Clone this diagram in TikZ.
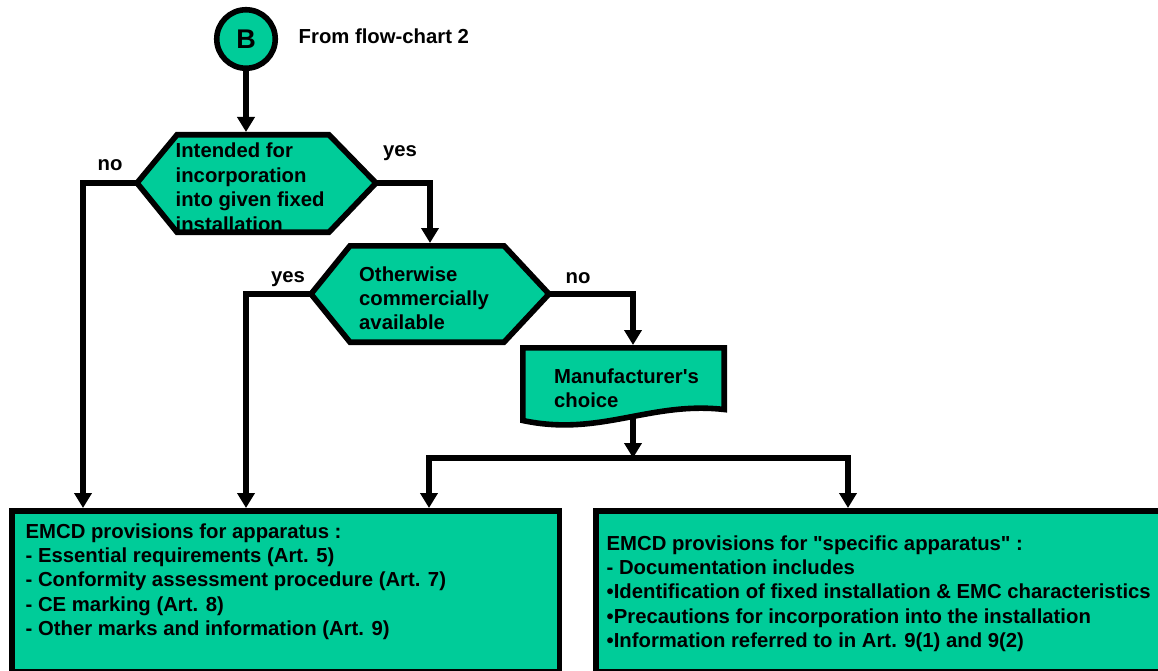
\documentclass[tikz,border=0pt]{standalone}
\usepackage{fontspec}
\setmainfont{Liberation Sans}
\usetikzlibrary{arrows.meta,calc}
\definecolor{teal1}{RGB}{0,204,153}
\newcommand\mlines[1]{\begin{tabular}[t]{@{}l@{}}#1\end{tabular}}
\begin{document}
\begin{tikzpicture}[x=1pt,y=-1pt,
  conn/.style={line width=5.2pt, line join=miter},
  arr/.style={conn, -{Triangle[length=15pt,width=17pt]}},
  shapebox/.style={draw=black, fill=teal1, line width=5.6pt, line join=miter},
  lbl/.style={font=\fontsize{20.3}{24.4}\selectfont\bfseries, inner sep=0pt},
  txt/.style={lbl, anchor=base west},
  startc/.style={circle, draw=black, fill=teal1, line width=5.6pt, minimum size=58.5pt, inner sep=0pt, font=\fontsize{27}{30}\selectfont\bfseries},
  bigbox/.style={shapebox, rectangle, inner sep=0pt, anchor=north west}
]
\useasboundingbox (0,0) rectangle (1158,671);

% bottom boxes
\node[bigbox, minimum width=547.5pt, minimum height=161pt] (lbox) at (9,508) {};
\node[bigbox, minimum width=574pt, minimum height=161pt] (rbox) at (593,508) {};

% start circle
\node[startc] (B) at (246,39) {B};
\node[txt] (from) at (298.5,44) {From flow-chart 2};

% decision 1
\coordinate (h1L) at (137,183);
\coordinate (h1R) at (376,183);
\coordinate (h1t) at (246,132);
\path[shapebox] (h1L) -- (177,134.8) -- (329,134.8) -- (h1R) -- (329,232.2) -- (177,232.2) -- cycle;
\node[txt] (q1) at (175.5,158) {\mlines{Intended for\\incorporation\\into given fixed\\installation}};

% decision 2
\coordinate (h2L) at (311,294);
\coordinate (h2R) at (549,294);
\coordinate (h2t) at (430,243);
\path[shapebox] (h2L) -- (350,245.8) -- (504,245.8) -- (h2R) -- (504,342.2) -- (350,342.2) -- cycle;
\node[txt] (q2) at (359,281) {\mlines{Otherwise\\commercially\\available}};

% document
\coordinate (dt) at (633,345);
\coordinate (db) at (633,416);
\path[shapebox] (522.8,347.8) -- (724.2,347.8) -- (724.2,409.5)
  .. controls (650,401) and (600,437) .. (522.8,420.5) -- cycle;
\node[txt] (doc) at (554,383) {\mlines{Manufacturer\textquotesingle s\\choice}};

% box texts
\node[txt] (ltext) at (25.5,538) {\mlines{EMCD provisions for apparatus :\\- Essential requirements (Art. 5)\\- Conformity assessment procedure (Art. 7)\\- CE marking (Art. 8)\\- Other marks and information (Art. 9)}};
\node[txt] (rtext) at (606.5,550) {\mlines{EMCD provisions for \textquotedbl specific apparatus\textquotedbl{} :\\- Documentation includes\\•Identification of fixed installation \& EMC characteristics\\•Precautions for incorporation into the installation\\•Information referred to in Art. 9(1) and 9(2)}};

% labels
\node[lbl, anchor=base] (no1) at (110,171) {no};
\node[lbl, anchor=base] (yes1) at (400,157) {yes};
\node[lbl, anchor=base] (yes2) at (288,282) {yes};
\node[lbl, anchor=base] (no2) at (578,283) {no};

% connectors
\coordinate (nL) at (83,183);
\coordinate (yR) at (430,183);
\coordinate (yL) at (246,294);
\coordinate (nR) at (633,294);
\coordinate (jn) at (633,458);
\coordinate (jL) at (429,458);
\coordinate (jR) at (848,458);

\draw[arr] (B) -- (h1t);
\draw[arr] (h1L) -- (nL) -- (nL |- lbox.north);
\draw[arr] (h1R) -- (yR) -- (h2t);
\draw[arr] (h2L) -- (yL) -- (yL |- lbox.north);
\draw[arr] (h2R) -- (nR) -- (dt);
\draw[arr] (db) -- (jn);
\draw[arr] (jn) -- (jL) -- (jL |- lbox.north);
\draw[arr] (jn) -- (jR) -- (jR |- rbox.north);
\end{tikzpicture}
\end{document}
